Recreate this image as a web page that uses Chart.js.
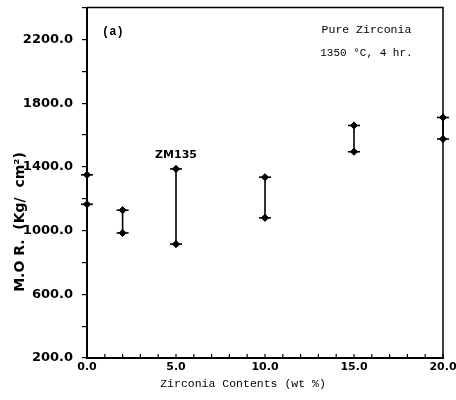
<!DOCTYPE html>
<html>
<head>
<meta charset="utf-8">
<script src="https://cdn.jsdelivr.net/npm/chart.js@4.4.1/dist/chart.umd.min.js"></script>
<style>
  body { margin: 0; background: #fff; }
  canvas { display: block; }
</style>
</head>
<body>
<canvas id="mor" width="456" height="400"></canvas>
<script>
// zirconia content (wt %) and the low / high M.O.R. values at each content
const contents = [0, 2, 5, 10, 15, 20];
const morLow = [1165, 985, 915, 1080, 1495, 1575];
const morHigh = [1350, 1128, 1387, 1335, 1660, 1710];

const xTickLabels = [0, 5, 10, 15, 20];
const yTickLabels = [200, 600, 1000, 1400, 1800, 2200];

// notes written on the plot, placed at data coordinates
const notes = [
  { text: '(a)', x: 1.45, y: 2245, font: 'bold 12px "Liberation Mono"' },
  { text: 'Pure Zirconia', x: 15.7, y: 2262, font: '11.5px "Liberation Mono"' },
  { text: '1350 °C, 4 hr.', x: 15.7, y: 2112, font: '11px "Liberation Mono"' },
  { text: 'ZM135', x: 5, y: 1475, font: 'bold 11px "DejaVu Sans"' }
];

const bars = [];
const ends = [];
contents.forEach((c, i) => {
  bars.push({ x: c, y: morLow[i] }, { x: c, y: morHigh[i] }, { x: c, y: null });
  ends.push({ x: c, y: morLow[i] }, { x: c, y: morHigh[i] });
});

const extras = {
  id: 'extras',
  afterDraw(chart) {
    const { ctx, chartArea: a, scales: { x, y } } = chart;
    ctx.save();
    ctx.strokeStyle = '#000';
    // top and right frame
    ctx.lineWidth = 1.5;
    ctx.beginPath();
    ctx.moveTo(a.left, a.top);
    ctx.lineTo(a.right, a.top);
    ctx.lineTo(a.right, a.bottom);
    ctx.stroke();
    // inward x ticks
    ctx.lineWidth = 1.2;
    x.ticks.forEach(t => {
      const px = x.getPixelForValue(t.value);
      ctx.beginPath();
      ctx.moveTo(px, a.bottom);
      ctx.lineTo(px, a.bottom - 4);
      ctx.stroke();
    });
    ctx.fillStyle = '#000';
    ctx.textAlign = 'center';
    ctx.textBaseline = 'middle';
    notes.forEach(n => {
      ctx.font = n.font;
      ctx.fillText(n.text, x.getPixelForValue(n.x), y.getPixelForValue(n.y));
    });
    // axis titles (the y one sits below the axis centre in the original)
    ctx.font = '11.5px "Liberation Mono"';
    ctx.fillText('Zirconia Contents (wt %)', 243, 384);
    ctx.translate(20, 222);
    ctx.rotate(-Math.PI / 2);
    ctx.font = 'bold 14px "DejaVu Sans"';
    ctx.fillText('M.O R.  (Kg/  cm²)', 0, 0);
    ctx.restore();
  }
};

new Chart(document.getElementById('mor'), {
  type: 'scatter',
  data: {
    datasets: [{
      data: bars,
      showLine: true,
      spanGaps: false,
      borderColor: '#000',
      borderWidth: 1.6,
      pointRadius: 0,
      clip: false
    }, {
      data: ends,
      showLine: false,
      pointStyle: 'rectRot',
      pointRadius: 3.6,
      backgroundColor: '#000',
      borderColor: '#000',
      borderWidth: 1,
      clip: false
    }, {
      data: ends,
      showLine: false,
      pointStyle: 'line',
      pointRadius: 6,
      borderColor: '#000',
      borderWidth: 1.6,
      clip: false
    }]
  },
  options: {
    responsive: false,
    animation: false,
    layout: { padding: { top: 5, right: 13, left: 0, bottom: 0 } },
    plugins: { legend: { display: false }, tooltip: { enabled: false } },
    scales: {
      x: {
        type: 'linear',
        min: 0,
        max: 20,
        afterFit(s) { s.height = 42; s.paddingLeft = 0; s.paddingRight = 0; },
        ticks: {
          stepSize: 1,
          autoSkip: false,
          maxRotation: 0,
          padding: 3,
          color: '#000',
          font: { family: 'DejaVu Sans', size: 11, weight: 'bold' },
          callback: v => xTickLabels.includes(v) ? v.toFixed(1) : ''
        },
        grid: { drawOnChartArea: false, drawTicks: false },
        border: { color: '#000', width: 2 }
      },
      y: {
        min: 200,
        max: 2400,
        afterFit(s) { s.width = 87; s.paddingTop = 0; s.paddingBottom = 0; },
        ticks: {
          stepSize: 200,
          autoSkip: false,
          padding: 9,
          color: '#000',
          font: { family: 'DejaVu Sans', size: 13, weight: 'bold' },
          callback: v => yTickLabels.includes(v) ? v.toFixed(1) : ''
        },
        grid: { drawOnChartArea: false, tickLength: 5, color: '#000', lineWidth: 1.2 },
        border: { color: '#000', width: 2 }
      }
    }
  },
  plugins: [extras]
});
</script>
</body>
</html>
